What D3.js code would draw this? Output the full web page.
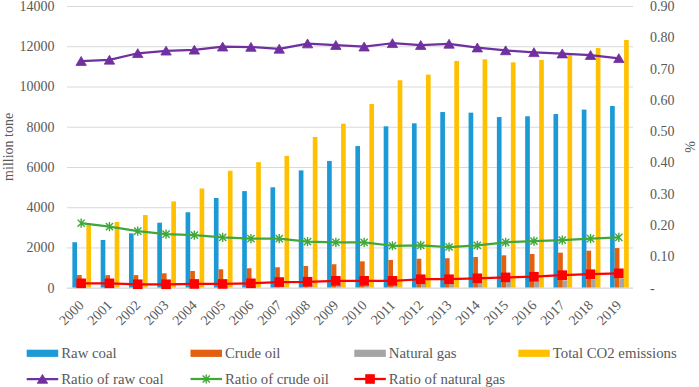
<!DOCTYPE html>
<html>
<head>
<meta charset="utf-8">
<script src="https://cdn.jsdelivr.net/npm/d3@7"></script>
<style>
    body { margin: 0; background: #fff; }
    #chart-area { width: 699px; height: 387px; }
    svg text { font-family: "Liberation Serif", Tinos, "Times New Roman", Times, "DejaVu Serif", serif; fill: #595959; }
</style>
</head>
<body>
<div id="chart-area"></div>
<script>

// values
const years = ["2000", "2001", "2002", "2003", "2004", "2005", "2006", "2007", "2008", "2009",
    "2010", "2011", "2012", "2013", "2014", "2015", "2016", "2017", "2018", "2019"];

const rawCoal = [2260, 2370, 2700, 3230, 3750, 4460, 4800, 4990, 5830, 6300,
    7040, 8020, 8170, 8730, 8700, 8480, 8520, 8630, 8850, 9030];
const crudeOil = [630, 625, 625, 715, 830, 915, 965, 1015, 1080, 1165,
    1310, 1380, 1440, 1465, 1525, 1610, 1675, 1740, 1840, 1970];
const naturalGas = [45, 50, 55, 60, 70, 80, 100, 120, 140, 160,
    190, 220, 240, 270, 290, 310, 330, 370, 420, 470];
const totalCO2 = [3150, 3270, 3610, 4290, 4930, 5810, 6240, 6550, 7490, 8150,
    9130, 10310, 10590, 11270, 11350, 11200, 11320, 11580, 11910, 12310];

const ratioRawCoal = [0.724, 0.728, 0.749, 0.757, 0.760, 0.770, 0.769, 0.763, 0.780, 0.775,
    0.770, 0.781, 0.775, 0.779, 0.767, 0.758, 0.752, 0.748, 0.743, 0.733];
const ratioCrudeOil = [0.206, 0.195, 0.181, 0.171, 0.168, 0.161, 0.157, 0.157, 0.147, 0.145,
    0.145, 0.134, 0.135, 0.130, 0.135, 0.145, 0.149, 0.152, 0.157, 0.161];
const ratioNaturalGas = [0.014, 0.014, 0.011, 0.011, 0.012, 0.012, 0.014, 0.018, 0.019, 0.022,
    0.022, 0.022, 0.027, 0.027, 0.030, 0.033, 0.035, 0.040, 0.043, 0.046];

const leftTicks = [0, 2000, 4000, 6000, 8000, 10000, 12000, 14000];
const rightTicks = [0, 0.1, 0.2, 0.3, 0.4, 0.5, 0.6, 0.7, 0.8, 0.9];

const barSeries = ["Raw coal", "Crude oil", "Natural gas", "Total CO2 emissions"];
const lineSeries = ["Ratio of raw coal", "Ratio of crude oil", "Ratio of natural gas"];


class emissionsChart {

    constructor(parentElement) {
        this.parentElement = parentElement;

        this.barData = [rawCoal, crudeOil, naturalGas, totalCO2];
        this.lineData = [ratioRawCoal, ratioCrudeOil, ratioNaturalGas];
        this.barColors = ["#1b9ad6", "#e2600f", "#a5a5a5", "#ffc000"];
        this.lineColors = ["#7030a0", "#40a83a", "#ff0000"];

        this.initVis()
    }

    initVis() {
        let vis = this;

        vis.margin = {top: 6, right: 66, bottom: 99.3, left: 67};
        vis.width = 699 - vis.margin.left - vis.margin.right;
        vis.height = 387 - vis.margin.top - vis.margin.bottom;

        vis.svg = d3.select("#" + vis.parentElement).append("svg")
            .attr("width", 699)
            .attr("height", 387)
            .attr("font-family", "'Liberation Serif', Tinos, 'Times New Roman', serif");

        vis.chart = vis.svg.append("g")
            .attr("transform", `translate(${vis.margin.left}, ${vis.margin.top})`);

        // scales
        vis.x = d3.scaleBand().domain(years).range([0, vis.width]);
        vis.xInner = d3.scaleBand().domain(d3.range(4))
            .range([vis.x.bandwidth() * 0.19, vis.x.bandwidth() * 0.85]);
        vis.y = d3.scaleLinear().domain([0, 14000]).range([vis.height, 0]);
        vis.yRight = d3.scaleLinear().domain([0, 0.9]).range([vis.height, 0]);

        // gridlines
        vis.chart.append("g").attr("class", "grid")
            .selectAll("line")
            .data(leftTicks)
            .enter()
            .append("line")
            .attr("x1", 0)
            .attr("x2", vis.width)
            .attr("y1", d => vis.y(d) + 0.5)
            .attr("y2", d => vis.y(d) + 0.5)
            .attr("stroke", "#d9d9d9")
            .attr("stroke-width", 1);

        // left axis labels
        vis.chart.append("g").selectAll("text")
            .data(leftTicks)
            .enter()
            .append("text")
            .attr("x", -12.5)
            .attr("y", d => vis.y(d))
            .attr("dy", "0.35em")
            .attr("text-anchor", "end")
            .style("font-size", "14px")
            .text(d => d);

        // right axis labels (accounting style, zero shown as dash)
        vis.chart.append("g").selectAll("text")
            .data(rightTicks)
            .enter()
            .append("text")
            .attr("x", vis.width + 17)
            .attr("y", d => vis.yRight(d))
            .attr("dy", "0.35em")
            .style("font-size", "14px")
            .text(d => d === 0 ? " -" : d3.format(".2f")(d));

        // x labels, rotated
        vis.chart.append("g").selectAll("text")
            .data(years)
            .enter()
            .append("text")
            .attr("transform", d => `translate(${vis.x(d) + vis.x.bandwidth() / 2}, ${vis.height + 15}) rotate(-45)`)
            .attr("dy", "0.35em")
            .attr("text-anchor", "end")
            .style("font-size", "14px")
            .text(d => d);

        // axis titles
        vis.svg.append("text")
            .attr("transform", `translate(8, ${vis.margin.top + vis.height / 2}) rotate(-90)`)
            .attr("text-anchor", "middle")
            .attr("dy", "0.35em")
            .style("font-size", "14px")
            .text("million tone");

        vis.svg.append("text")
            .attr("transform", `translate(690, ${vis.margin.top + vis.height / 2}) rotate(-90)`)
            .attr("text-anchor", "middle")
            .attr("dy", "0.35em")
            .style("font-size", "14px")
            .text("%");

        vis.updateVis()
    }

    marker(g, i, color) {
        // 0 = triangle, 1 = star, 2 = square
        if (i === 0) {
            g.append("path")
                .attr("d", "M0,-4.6L5.2,4.3L-5.2,4.3Z")
                .attr("fill", color)
                .attr("stroke", color)
                .attr("stroke-width", 0.8);
        } else if (i === 1) {
            g.append("path")
                .attr("d", "M-3.6,-3.6L3.6,3.6M-3.6,3.6L3.6,-3.6M0,-4.6L0,4.6")
                .attr("fill", "none")
                .attr("stroke", color)
                .attr("stroke-width", 1.4);
        } else {
            g.append("rect")
                .attr("x", -4.8)
                .attr("y", -4.8)
                .attr("width", 9.6)
                .attr("height", 9.6)
                .attr("fill", color);
        }
    }

    updateVis() {
        let vis = this;

        // grouped bars
        vis.barData.forEach((series, s) => {
            vis.chart.append("g")
                .selectAll("rect")
                .data(series)
                .enter()
                .append("rect")
                .attr("x", (d, i) => vis.x(years[i]) + vis.xInner(s))
                .attr("width", vis.xInner.bandwidth())
                .attr("y", d => vis.y(d))
                .attr("height", d => vis.height - vis.y(d))
                .attr("fill", vis.barColors[s]);
        });

        // bottom axis line
        vis.chart.append("line")
            .attr("x1", 0)
            .attr("x2", vis.width)
            .attr("y1", vis.height + 0.5)
            .attr("y2", vis.height + 0.5)
            .attr("stroke", "#d9d9d9");

        // ratio lines on the right axis
        let line = d3.line()
            .x((d, i) => vis.x(years[i]) + vis.x.bandwidth() / 2)
            .y(d => vis.yRight(d));

        vis.lineData.forEach((series, s) => {
            vis.chart.append("path")
                .datum(series)
                .attr("d", line)
                .attr("fill", "none")
                .attr("stroke", vis.lineColors[s])
                .attr("stroke-width", 2.25)
                .attr("stroke-linejoin", "round");

            vis.chart.append("g")
                .selectAll("g")
                .data(series)
                .enter()
                .append("g")
                .attr("transform", (d, i) => `translate(${vis.x(years[i]) + vis.x.bandwidth() / 2}, ${vis.yRight(d)})`)
                .each(function() { vis.marker(d3.select(this), s, vis.lineColors[s]); });
        });

        // legend
        let legend = vis.svg.append("g").attr("class", "legend");
        let colX = [26.7, 190.5, 354.3, 518.3];

        barSeries.forEach((name, s) => {
            let item = legend.append("g").attr("transform", `translate(${colX[s]}, 353.3)`);
            item.append("rect")
                .attr("x", 0).attr("y", -3.6)
                .attr("width", 31.5).attr("height", 7.2)
                .attr("fill", vis.barColors[s]);
            item.append("text")
                .attr("x", 34.5).attr("dy", "0.35em")
                .style("font-size", "14.8px")
                .text(name);
        });

        lineSeries.forEach((name, s) => {
            let item = legend.append("g").attr("transform", `translate(${colX[s]}, 379)`);
            item.append("line")
                .attr("x1", 0).attr("x2", 31.5)
                .attr("stroke", vis.lineColors[s])
                .attr("stroke-width", 2.25);
            let m = item.append("g").attr("transform", "translate(15.75, 0)");
            vis.marker(m, s, vis.lineColors[s]);
            item.append("text")
                .attr("x", 34.5).attr("dy", "0.35em")
                .style("font-size", "14.8px")
                .text(name);
        });
    }
}

new emissionsChart("chart-area");

</script>
</body>
</html>
